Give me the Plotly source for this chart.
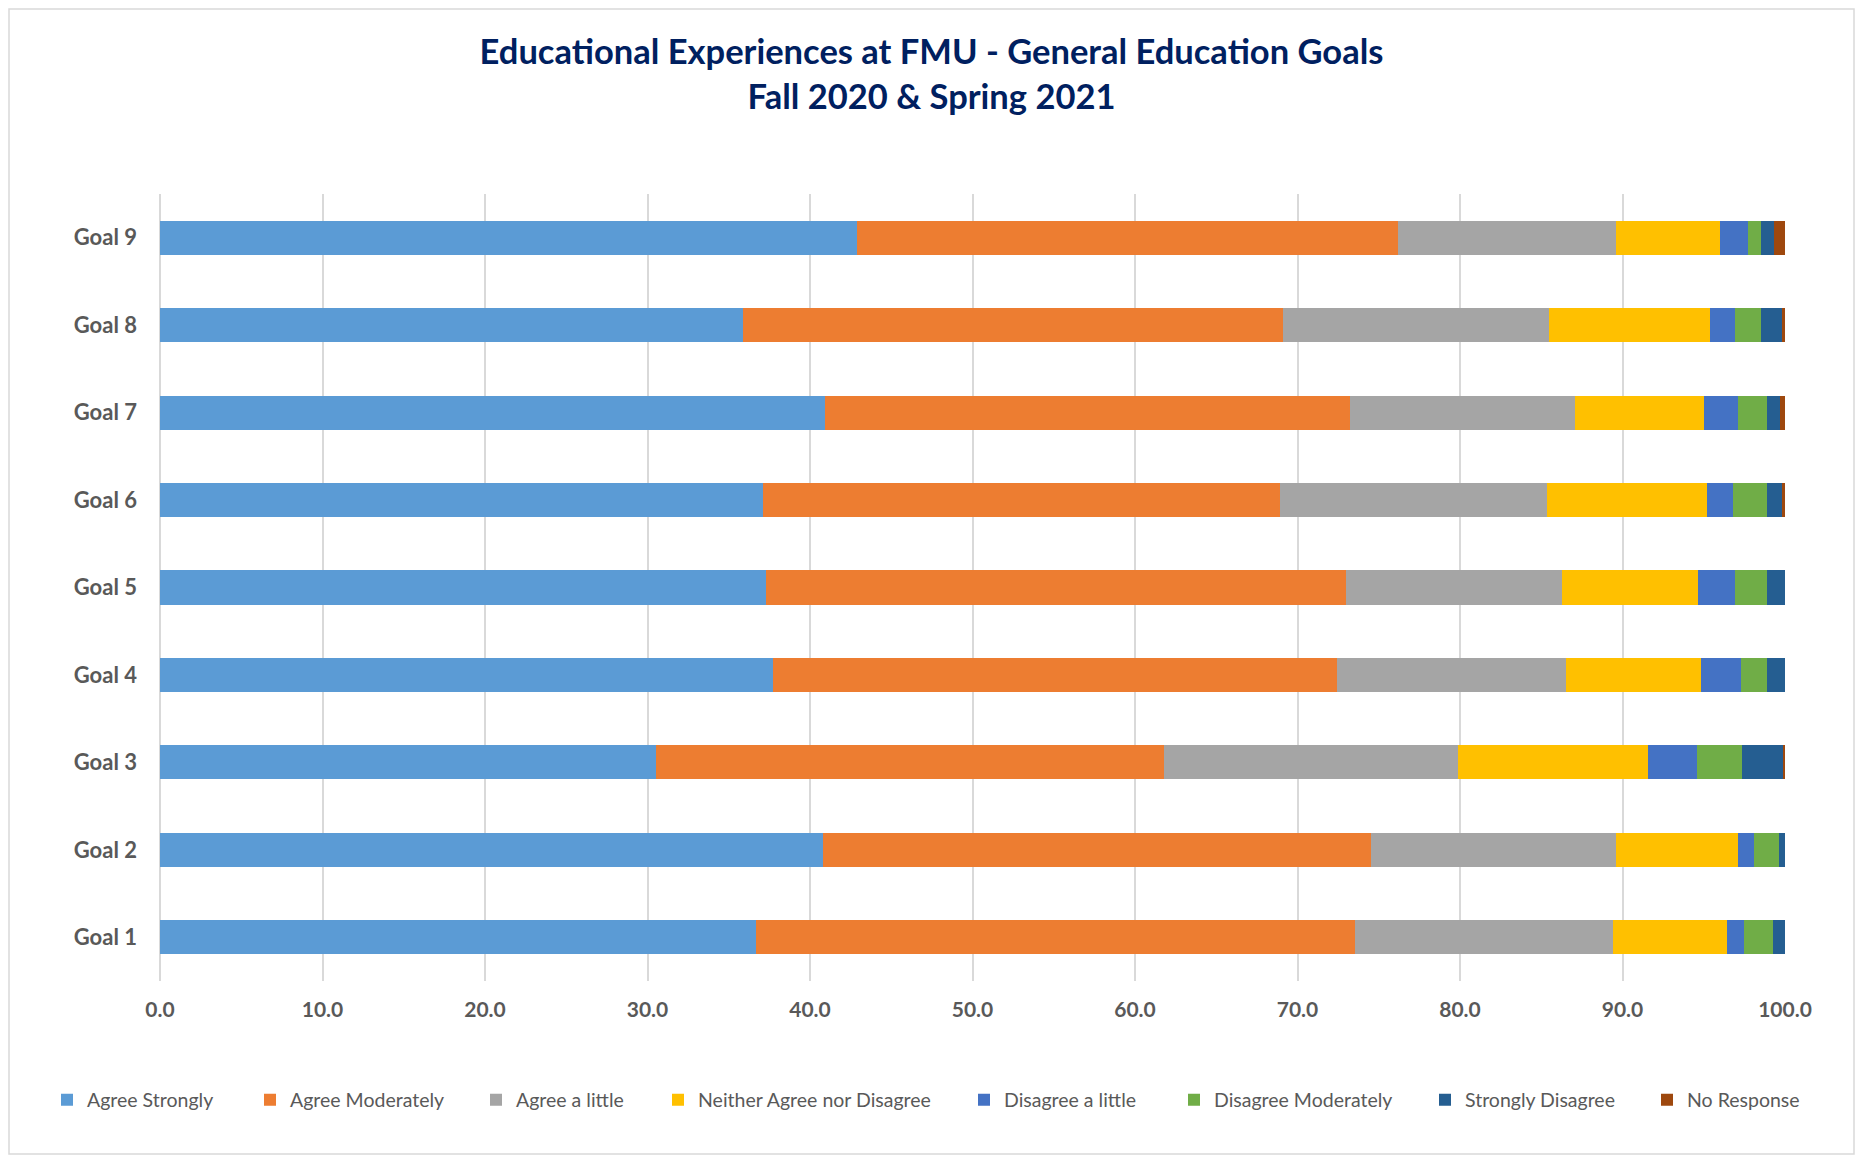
import plotly.graph_objects as go

goals = ["Goal 1", "Goal 2", "Goal 3", "Goal 4", "Goal 5", "Goal 6", "Goal 7", "Goal 8", "Goal 9"]

agree_strongly = [36.7, 40.8, 30.5, 37.7, 37.3, 37.1, 40.9, 35.9, 42.9]
agree_moderately = [36.85, 33.7, 31.3, 34.7, 35.7, 31.8, 32.3, 33.2, 33.3]
agree_little = [15.85, 15.1, 18.1, 14.1, 13.3, 16.45, 13.9, 16.4, 13.4]
neither = [7.0, 7.5, 11.65, 8.35, 8.35, 9.85, 7.9, 9.9, 6.4]
disagree_little = [1.1, 1.0, 3.05, 2.45, 2.25, 1.6, 2.1, 1.5, 1.7]
disagree_moderately = [1.75, 1.5, 2.75, 1.6, 2.0, 2.1, 1.8, 1.6, 0.8]
strongly_disagree = [0.75, 0.4, 2.5, 1.1, 1.1, 0.9, 0.8, 1.3, 0.8]
no_response = [0.0, 0.0, 0.15, 0.0, 0.0, 0.2, 0.3, 0.2, 0.7]

series_names = ["Agree Strongly", "Agree Moderately", "Agree a little",
                "Neither Agree nor Disagree", "Disagree a little",
                "Disagree Moderately", "Strongly Disagree", "No Response"]
series_values = [agree_strongly, agree_moderately, agree_little, neither,
                 disagree_little, disagree_moderately, strongly_disagree, no_response]
colors = ["#5B9BD5", "#ED7D31", "#A5A5A5", "#FFC000", "#4472C4", "#70AD47", "#255E91", "#9E480E"]

x_ticks = [0, 10, 20, 30, 40, 50, 60, 70, 80, 90, 100]

# page has an 8px body margin; figure fills the rest of the 1863x1163 window
OFF = 8
W, H = 1863 - 2 * OFF, 1163 - 2 * OFF
# plot area in page pixels: x 160..1785, y 194..981
ML = 160 - OFF
MT = 194 - OFF
MR = W - (1785 - OFF)
MB = H - (981 - OFF)
PW, PH = W - ML - MR, H - MT - MB

# legend marker centres (page pixels) in the reference
legend_px = [72, 275, 501, 683, 989, 1199, 1450, 1672]

fig = go.Figure()
legend_names = ["legend"] + [f"legend{i}" for i in range(2, 9)]
for name, vals, col, lg in zip(series_names, series_values, colors, legend_names):
    fig.add_trace(go.Bar(
        y=goals, x=vals, name=name, orientation="h",
        marker=dict(color=col, line=dict(width=0)),
        legend=lg,
    ))

layout_legends = {}
for lg, px in zip(legend_names, legend_px):
    layout_legends[lg] = dict(
        xref="container", yref="container",
        x=(px - OFF - 25) / W, xanchor="left",
        y=1 - (1100 - OFF) / H, yanchor="middle",
        orientation="h",
        font=dict(family="Lato", size=19.5, color="#595959"),
        bgcolor="rgba(0,0,0,0)",
        itemclick=False,
    )

fig.update_layout(
    width=W, height=H,
    margin=dict(l=ML, r=MR, t=MT, b=MB),
    barmode="stack",
    bargap=0.61,
    paper_bgcolor="white",
    plot_bgcolor="white",
    title=dict(
        text="Educational Experiences at FMU - General Education Goals<br>Fall 2020 & Spring 2021",
        x=0.5, xref="container", xanchor="center",
        y=1 - (64 - OFF) / H, yref="container", yanchor="middle",
        font=dict(family="Lato", size=34.5, color="#002060", weight="bold"),
    ),
    xaxis=dict(
        range=[0, 100], tickvals=x_ticks, tickformat=".1f",
        showgrid=True, gridcolor="#D9D9D9", gridwidth=2,
        zeroline=True, zerolinecolor="#D9D9D9", zerolinewidth=2,
        showline=False, ticks="",
        tickfont=dict(family="Lato", size=21, color="#595959", weight="bold"),
        ticklabelstandoff=14,
        fixedrange=True,
    ),
    yaxis=dict(
        showgrid=False, showline=False, ticks="",
        tickfont=dict(family="Lato", size=22, color="#595959", weight="bold"),
        ticklabelstandoff=22,
        fixedrange=True,
    ),
    showlegend=True,
    **layout_legends,
)

# outer chart border
def px_to_paper_x(px):
    return (px - OFF - ML) / PW

def px_to_paper_y(py):
    return 1 - (py - OFF - MT) / PH

fig.add_shape(type="rect", xref="paper", yref="paper",
              x0=px_to_paper_x(9), x1=px_to_paper_x(1854),
              y0=px_to_paper_y(1154), y1=px_to_paper_y(9),
              line=dict(color="#D9D9D9", width=1.5), fillcolor="rgba(0,0,0,0)",
              layer="below")

fig.write_html("out.html")
